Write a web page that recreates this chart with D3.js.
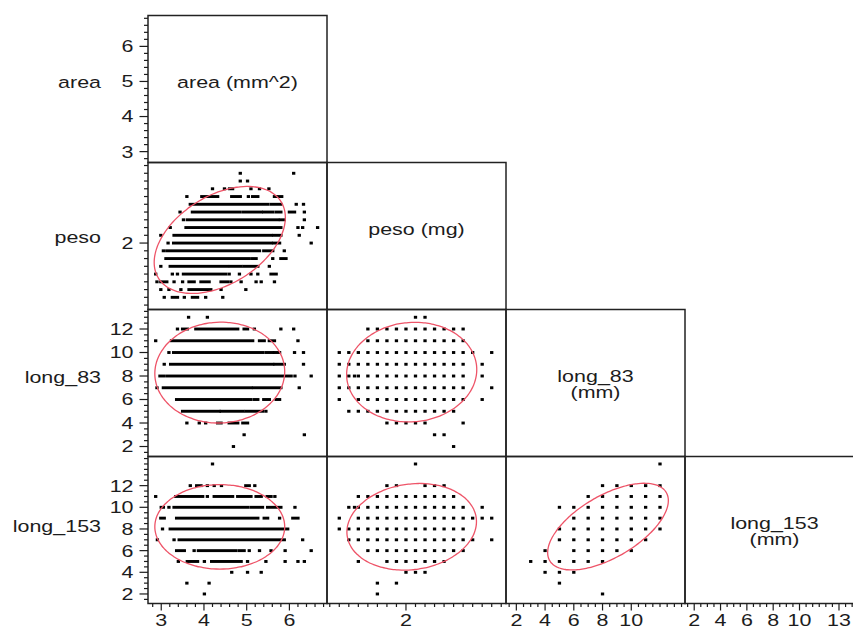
<!DOCTYPE html>
<html>
<head>
<meta charset="utf-8">
<script src="https://cdn.jsdelivr.net/npm/d3@7"></script>
<style>
  html, body { margin: 0; padding: 0; background: #ffffff; }
  svg { display: block; }
  text { font-family: "Liberation Sans", Arial, sans-serif; font-size: 16.5px; fill: #1c1c1c; }
</style>
</head>
<body>
<svg id="chart" width="853" height="628"></svg>
<script>
// ---- variables of the scatterplot matrix ----
const variables = ["area", "peso", "long_83", "long_153"];
const diagonalLabels = [["area (mm^2)"], ["peso (mg)"], ["long_83", "(mm)"], ["long_153", "(mm)"]];

// axis ranges (horizontal use, vertical use)
const xDomains = [[2.69, 6.88], [1.171, 3.05], [1.28, 13.74], [1.3, 14.9]];
const yDomains = [[2.69, 6.88], [1.143, 3.039], [1.15, 13.66], [1.12, 14.69]];

// labelled tick values and minor tick step per variable
const xTickLabels = [[3, 4, 5, 6], [2], [2, 4, 6, 8, 10], [2, 4, 6, 8, 10, 13]];
const yTickLabels = [[3, 4, 5, 6], [2], [2, 4, 6, 8, 10, 12], [2, 4, 6, 8, 10, 12]];
const minorSteps = [0.2, 0.1, 0.5, 0.5];

// area against peso: [peso, area from, area to] runs of overlapping points
const areaPesoRuns = [
  [2.9,4.85,4.85],[2.9,6.10,6.10],
  [2.8,4.85,4.85],[2.8,5.02,5.02],
  [2.7,4.20,4.20],[2.7,4.48,4.48],[2.7,4.60,4.67],[2.7,5.10,5.10],[2.7,5.30,5.30],[2.7,5.52,5.52],
  [2.6,3.60,3.60],[2.6,3.95,4.32],[2.6,4.65,4.85],[2.6,5.04,5.04],[2.6,5.14,5.26],[2.6,5.65,5.82],
  [2.5,3.68,5.49],[2.5,5.57,5.80],[2.5,6.16,6.16],[2.5,6.33,6.33],
  [2.4,3.44,3.44],[2.4,3.73,4.83],[2.4,4.91,5.34],[2.4,5.40,5.61],[2.4,5.69,5.80],[2.4,6.00,6.12],[2.4,6.35,6.35],
  [2.3,3.52,3.52],[2.3,3.61,5.73],[2.3,5.79,5.88],[2.3,6.35,6.35],
  [2.2,3.21,3.21],[2.2,3.58,5.80],[2.2,6.20,6.20],[2.2,6.31,6.31],[2.2,6.66,6.66],
  [2.1,2.99,2.99],[2.1,3.30,5.57],[2.1,5.63,5.80],[2.1,6.23,6.23],
  [2.0,3.16,3.16],[2.0,3.29,5.57],[2.0,5.63,5.77],[2.0,6.51,6.51],
  [1.9,3.05,3.05],[1.9,3.13,5.30],[1.9,5.40,5.61],[1.9,5.88,5.88],
  [1.8,3.11,5.06],[1.8,5.14,5.22],[1.8,5.61,5.61],[1.8,5.80,5.92],
  [1.7,2.99,2.99],[1.7,3.21,4.55],[1.7,4.62,4.87],[1.7,4.94,5.26],[1.7,5.53,5.53],
  [1.6,2.87,2.87],[1.6,3.26,3.26],[1.6,3.38,3.38],[1.6,3.52,4.51],[1.6,4.59,4.59],[1.6,4.83,4.83],[1.6,5.10,5.10],[1.6,5.26,5.26],[1.6,5.57,5.69],
  [1.5,2.90,2.90],[1.5,2.99,3.13],[1.5,3.30,3.30],[1.5,3.50,3.50],[1.5,3.65,3.77],[1.5,3.93,4.12],[1.5,4.40,4.55],[1.5,4.63,4.63],[1.5,4.87,4.87],[1.5,5.22,5.22],[1.5,5.34,5.34],[1.5,5.65,5.65],
  [1.4,2.99,2.99],[1.4,3.18,3.18],[1.4,3.46,3.46],[1.4,3.65,4.16],[1.4,4.40,4.40],[1.4,4.98,4.98],
  [1.3,3.07,3.07],[1.3,3.26,3.38],[1.3,3.54,3.54],[1.3,3.73,3.85],[1.3,4.04,4.04],[1.3,4.44,4.44]
];

// area against long_83: [long_83, area from, area to]
const areaLong83Runs = [
  [13,3.64,3.64],[13,4.08,4.08],
  [12,3.38,3.38],[12,3.50,3.61],[12,3.81,4.79],[12,4.94,5.02],[12,5.18,5.18],[12,5.80,5.80],[12,6.10,6.10],
  [11,2.87,2.87],[11,3.24,5.14],[11,5.30,5.41],[11,5.53,5.65],[11,6.20,6.20],
  [10,3.18,3.18],[10,3.29,5.37],[10,5.45,5.61],[10,5.65,5.77],[10,6.12,6.12],[10,6.33,6.33],
  [9,3.07,3.07],[9,3.22,5.61],[9,5.66,5.88],[9,6.33,6.33],
  [8,2.97,3.05],[8,3.13,6.04],[8,6.13,6.13],[8,6.51,6.51],
  [7,2.90,2.90],[7,3.05,5.10],[7,5.16,5.80],[7,6.23,6.23],
  [6,3.36,5.10],[6,5.18,5.26],[6,5.40,5.53],[6,5.69,5.77],
  [5,3.50,4.36],[5,4.40,4.91],[5,4.98,5.37],[5,5.45,5.45],
  [4,3.60,3.60],[4,3.89,3.89],[4,4.04,4.04],[4,4.32,4.40],[4,4.59,4.79],[4,4.91,5.02],
  [3,4.94,4.94],[3,6.35,6.35],
  [2,4.69,4.69]
];

// area against long_153: [long_153, area from, area to]
const areaLong153Runs = [
  [14,4.20,4.20],
  [12,3.68,3.68],[12,3.83,3.93],[12,4.08,4.08],[12,4.24,4.24],[12,4.41,4.41],[12,4.98,5.06],[12,5.19,5.19],
  [11,2.87,2.87],[11,3.34,3.97],[11,4.08,4.08],[11,4.24,4.67],[11,4.79,5.10],[11,5.22,5.34],[11,5.48,5.57],[11,5.66,5.66],
  [10,3.00,3.05],[10,3.18,3.18],[10,3.30,5.02],[10,5.10,5.37],[10,5.49,5.80],[10,6.13,6.13],
  [9,2.99,3.07],[9,3.36,5.26],[9,5.41,5.49],[9,5.77,5.77],[9,6.08,6.20],
  [8,3.03,3.03],[8,3.21,5.96],
  [7,2.91,2.91],[7,3.30,3.30],[7,3.42,5.88],[7,6.31,6.31],
  [6,3.36,3.54],[6,3.77,3.77],[6,3.87,4.75],[6,4.83,4.94],[6,5.06,5.06],[6,5.30,5.30],[6,5.57,5.57],[6,5.90,5.90],[6,6.51,6.51],
  [5,3.40,3.40],[5,3.61,3.85],[5,4.01,4.01],[5,4.18,4.87],[5,5.02,5.02],[5,5.45,5.45],[5,5.90,5.90],[5,6.20,6.20],[5,6.35,6.35],
  [4,4.65,4.65],[4,5.02,5.02],[4,5.34,5.34],
  [3,3.60,3.60],[3,4.12,4.12],
  [2,4.01,4.01]
];

// peso against long_83: [long_83, peso values]
const pesoLong83Rows = [
  [13,[2.1,2.2]],
  [12,[1.6,1.7,1.8,1.9,2.0,2.1,2.2,2.3,2.4,2.5,2.6]],
  [11,[1.6,1.7,1.8,1.9,2.0,2.1,2.2,2.3,2.4,2.5,2.6]],
  [10,[1.3,1.4,1.5,1.6,1.7,1.8,1.9,2.0,2.1,2.2,2.3,2.4,2.5,2.6,2.7,2.9]],
  [9,[1.3,1.4,1.5,1.6,1.7,1.8,1.9,2.0,2.1,2.2,2.3,2.4,2.5,2.6,2.8]],
  [8,[1.3,1.4,1.46,1.5,1.6,1.7,1.8,1.9,2.0,2.1,2.2,2.3,2.4,2.5,2.6,2.8]],
  [7,[1.3,1.4,1.5,1.6,1.7,1.8,1.9,2.0,2.1,2.2,2.3,2.4,2.5,2.6,2.9]],
  [6,[1.3,1.5,1.6,1.7,1.8,1.9,2.0,2.1,2.2,2.3,2.4,2.5,2.6,2.8]],
  [5,[1.4,1.5,1.6,1.7,1.8,1.9,2.0,2.1,2.2,2.3,2.4,2.5]],
  [4,[1.8,1.9,2.0,2.1,2.2,2.6]],
  [3,[2.3,2.4]],
  [2,[2.5]]
];

// peso against long_153: [long_153, peso values]
const pesoLong153Rows = [
  [14,[2.1]],
  [12,[1.8,1.9,2.2,2.3,2.4]],
  [11,[1.5,1.6,1.7,1.8,1.9,2.0,2.1,2.2,2.3,2.4,2.5]],
  [10,[1.4,1.46,1.5,1.6,1.7,1.8,1.9,2.0,2.1,2.2,2.3,2.4,2.5,2.6,2.8]],
  [9,[1.3,1.5,1.6,1.7,1.8,1.9,2.0,2.1,2.2,2.3,2.4,2.5,2.6,2.7,2.8,2.9]],
  [8,[1.3,1.4,1.5,1.6,1.7,1.8,1.9,2.0,2.1,2.2,2.3,2.4,2.5,2.6]],
  [7,[1.4,1.5,1.6,1.7,1.8,1.9,2.0,2.1,2.2,2.3,2.4,2.5,2.6,2.7,2.9]],
  [6,[1.6,1.7,1.8,1.9,2.0,2.1,2.2,2.3,2.4,2.5,2.6]],
  [5,[1.5,1.8,1.9,2.0,2.1,2.2,2.3,2.4]],
  [4,[2.0,2.1,2.2]],
  [3,[1.7,1.9]],
  [2,[1.7]]
];

// long_83 against long_153: [long_153, long_83 values]
const long83Long153Rows = [
  [14,[12]],
  [12,[8,9,10,11,12]],
  [11,[7,8,9,10,11,12]],
  [10,[5,6,7,8,9,10,11,12]],
  [9,[6,7,8,9,10,11,12]],
  [8,[5,6,7,8,9,10,11,12]],
  [7,[5,6,7,8,9,10,11]],
  [6,[4,6,7,8,9,10]],
  [5,[3,4,5,6,7,8]],
  [4,[4,5,6]],
  [3,[5]],
  [2,[8]]
];

// density ellipses: [row, col, mean x, mean y, half range x, half range y, correlation]
const ellipseParams = [
  [1, 0, 4.37, 2.04, 1.535, 0.69, 0.42],
  [2, 0, 4.37, 8.29, 1.52, 4.29, 0.02],
  [3, 0, 4.37, 8.20, 1.52, 3.90, 0.00],
  [2, 1, 2.06, 8.33, 0.683, 4.24, 0.05],
  [3, 1, 2.06, 8.20, 0.68, 4.00, 0.12],
  [3, 2, 8.38, 8.22, 4.20, 4.00, 0.60]
];

// ---- layout ----
const gridLeft = 148, gridTop = 15.5, cellW = 179, cellH = 147;
const nVars = variables.length;
const textStretch = 1.3;
const rowLabelShift = [-1.5, 7, 0, 2];
const ink = "#1c1c1c";

const svg = d3.select("#chart");

const xScales = xDomains.map((d, i) => d3.scaleLinear().domain(d).range([gridLeft + i * cellW, gridLeft + (i + 1) * cellW]));
const yScales = yDomains.map((d, i) => d3.scaleLinear().domain(d).range([gridTop + (i + 1) * cellH, gridTop + i * cellH]));

function drawText(parent, x, y, str, anchor) {
  parent.append("text")
    .attr("transform", `translate(${x},${y}) scale(${textStretch},1)`)
    .attr("text-anchor", anchor)
    .text(str);
}

function minorValues(domain, step) {
  const out = [];
  const k0 = Math.ceil(domain[0] / step - 1e-9), k1 = Math.floor(domain[1] / step + 1e-9);
  for (let k = k0; k <= k1; k++) out.push(+(k * step).toFixed(4));
  return out;
}

// cell frames of the lower triangle (diagonal included)
const frames = svg.append("g");
for (let r = 0; r < nVars; r++) {
  for (let c = 0; c <= r; c++) {
    frames.append("rect")
      .attr("x", gridLeft + c * cellW).attr("y", gridTop + r * cellH)
      .attr("width", cellW).attr("height", cellH)
      .attr("fill", "none").attr("stroke", "#222").attr("stroke-width", 1.5);
  }
}

// scatter marks
const dotW = 3.3, dotH = 2.9;
function drawRuns(runs, r, c) {
  const xs = xScales[c], ys = yScales[r];
  svg.append("g").selectAll("rect").data(runs).join("rect")
    .attr("x", d => xs(d[1]) - dotW / 2)
    .attr("y", d => ys(d[0]) - dotH / 2)
    .attr("width", d => xs(d[2]) - xs(d[1]) + dotW)
    .attr("height", dotH)
    .attr("fill", "#000");
}
function drawRows(rows, r, c) {
  const pts = rows.flatMap(([yv, list]) => list.map(xv => [xv, yv]));
  const xs = xScales[c], ys = yScales[r];
  svg.append("g").selectAll("rect").data(pts).join("rect")
    .attr("x", d => xs(d[0]) - dotW / 2)
    .attr("y", d => ys(d[1]) - dotH / 2)
    .attr("width", dotW).attr("height", dotH)
    .attr("fill", "#000");
}
drawRuns(areaPesoRuns, 1, 0);
drawRuns(areaLong83Runs, 2, 0);
drawRuns(areaLong153Runs, 3, 0);
drawRows(pesoLong83Rows, 2, 1);
drawRows(pesoLong153Rows, 3, 1);
drawRows(long83Long153Rows, 3, 2);

// ellipses
const angles = d3.range(0, 120).map(i => i / 120 * 2 * Math.PI);
ellipseParams.forEach(([r, c, mx, my, hx, hy, rho]) => {
  const xs = xScales[c], ys = yScales[r];
  const s = Math.sqrt(1 - rho * rho);
  const line = d3.line()
    .x(t => xs(mx + hx * Math.cos(t)))
    .y(t => ys(my + hy * (rho * Math.cos(t) + s * Math.sin(t))))
    .curve(d3.curveCardinalClosed);
  svg.append("path").attr("d", line(angles))
    .attr("fill", "none").attr("stroke", "#ee5468").attr("stroke-width", 1.3);
});

// left axes, one per row
const axes = svg.append("g").attr("stroke", ink).attr("stroke-width", 1.2);
const yMajorLen = 8.5, yMinorLen = 4, xMajorLen = 7, xMinorLen = 3.5;
for (let r = 0; r < nVars; r++) {
  const ys = yScales[r];
  const major = yTickLabels[r];
  minorValues(yDomains[r], minorSteps[r]).forEach(v => {
    const len = major.includes(v) ? yMajorLen : yMinorLen;
    axes.append("line").attr("x1", gridLeft - len).attr("x2", gridLeft).attr("y1", ys(v)).attr("y2", ys(v));
  });
  major.forEach(v => drawText(svg, gridLeft - yMajorLen - 6, ys(v) + 5.9, String(v), "end"));
  drawText(svg, 101, gridTop + (r + 0.5) * cellH + rowLabelShift[r], variables[r], "end");
}

// bottom axes, one per column
const gridBottom = gridTop + nVars * cellH;
for (let c = 0; c < nVars; c++) {
  const xs = xScales[c];
  const major = xTickLabels[c];
  minorValues(xDomains[c], minorSteps[c]).forEach(v => {
    const len = major.includes(v) ? xMajorLen : xMinorLen;
    axes.append("line").attr("x1", xs(v)).attr("x2", xs(v)).attr("y1", gridBottom).attr("y2", gridBottom + len);
  });
  major.forEach(v => drawText(svg, xs(v), 626, String(v), "middle"));
}

// variable names on the diagonal (unit on a second line sits tight under the name)
diagonalLabels.forEach((lines, i) => {
  const cx = gridLeft + (i + 0.5) * cellW, cy = gridTop + (i + 0.5) * cellH;
  if (lines.length === 1) {
    drawText(svg, cx, cy - 1.5, lines[0], "middle");
  } else {
    drawText(svg, cx, cy - 1, lines[0], "middle");
    drawText(svg, cx, cy + 14.5, lines[1], "middle");
  }
});
</script>
</body>
</html>
